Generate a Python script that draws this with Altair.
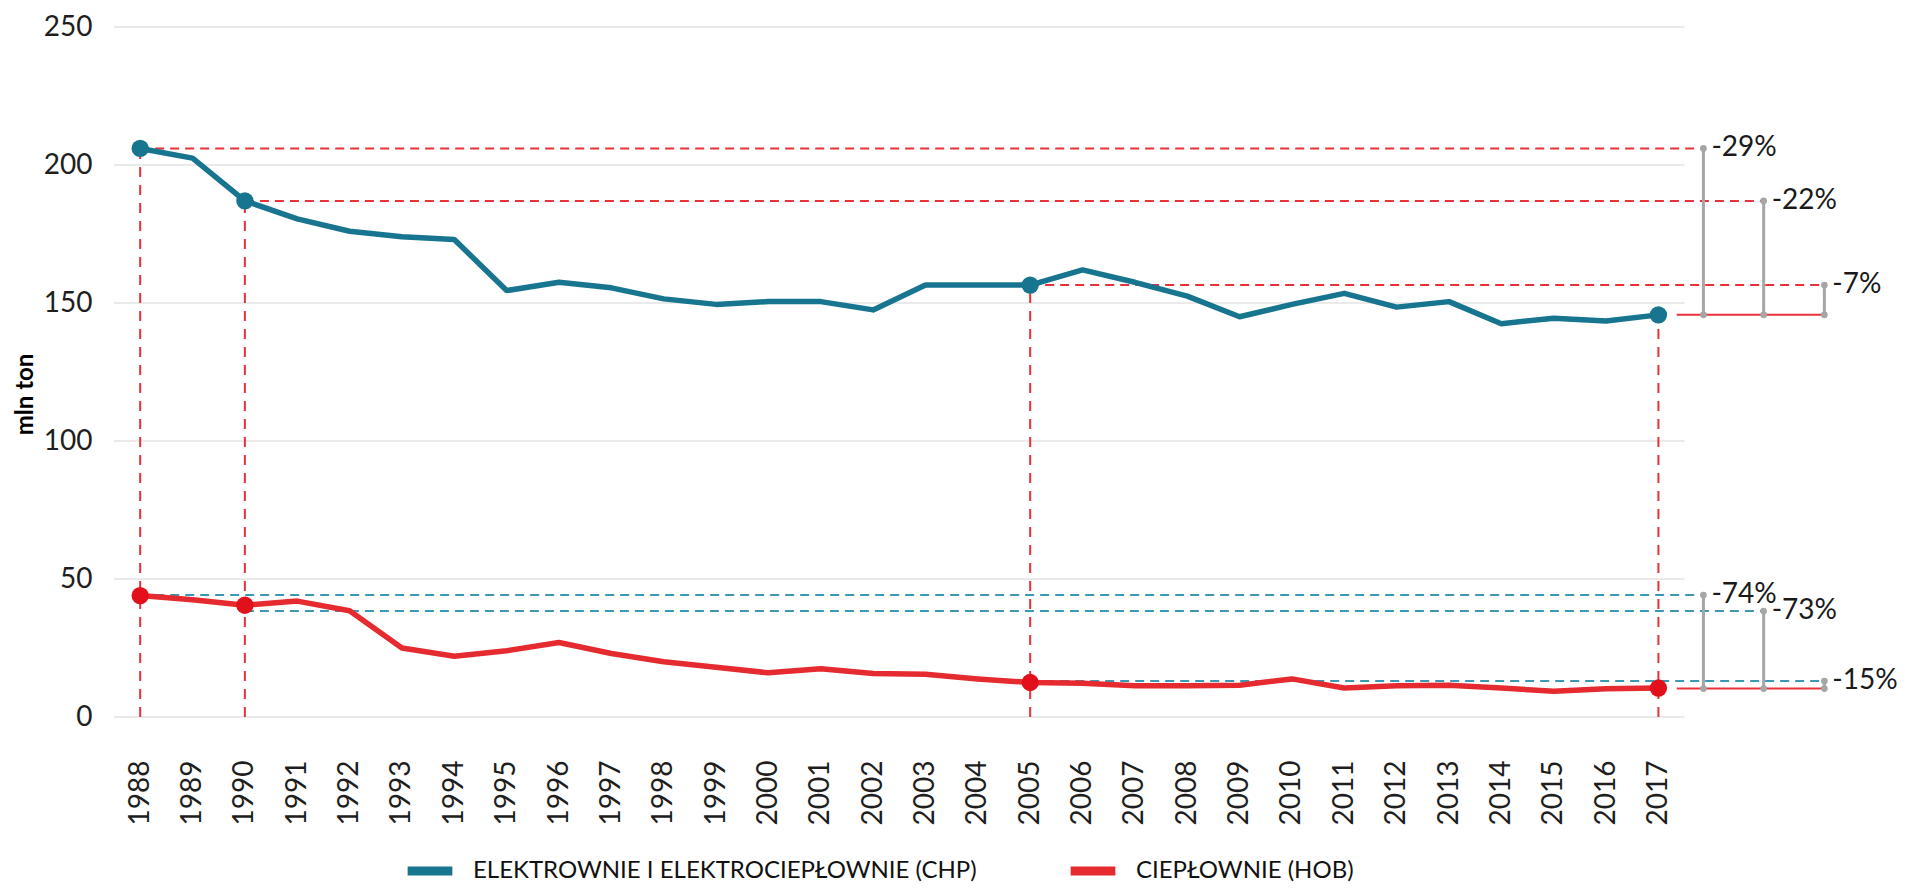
import altair as alt
import pandas as pd

# ---------------- data ----------------
years = [1988, 1989, 1990, 1991, 1992, 1993, 1994, 1995, 1996, 1997,
         1998, 1999, 2000, 2001, 2002, 2003, 2004, 2005, 2006, 2007,
         2008, 2009, 2010, 2011, 2012, 2013, 2014, 2015, 2016, 2017]
chp = [206, 202.5, 187, 180.5, 176, 174, 173, 154.5, 157.5, 155.5,
       151.5, 149.5, 150.5, 150.5, 147.5, 156.5, 156.5, 156.5, 162, 157.5,
       152.5, 145, 149.5, 153.5, 148.5, 150.5, 142.5, 144.5, 143.5, 145.7]
hob = [44, 42.5, 40.5, 42, 38.5, 25, 22, 24, 27, 23,
       20, 18, 16, 17.5, 15.8, 15.5, 13.8, 12.5, 12.2, 11.3,
       11.3, 11.5, 13.8, 10.5, 11.3, 11.5, 10.5, 9.3, 10.2, 10.5]

series_names = ["ELEKTROWNIE I ELEKTROCIEPŁOWNIE (CHP)", "CIEPŁOWNIE (HOB)"]
series_colors = ["#17758F", "#E52B2F"]
marker_colors = ["#17758F", "#E2101A"]
marker_years = [1988, 1990, 2005, 2017]
y_ticks = [0, 50, 100, 150, 200, 250]

# reference levels (dashed guides) and end levels (solid guides)
ref_start_years = [1988, 1990, 2005]
chp_ref_levels = [206, 187, 156.5]
hob_ref_levels = [44.2, 38.4, 13.0]
chp_end_level = 145.7
hob_end_level = 10.3
end_line_start = 2017.35
bar_positions = [2017.86, 2019.01, 2020.17]
chp_labels = ["-29%", "-22%", "-7%"]
hob_labels = ["-74%", "-73%", "-15%"]

RED_DASH = "#E8323A"
BLUE_DASH = "#3C97B2"
GRAY = "#A6A6A6"
FONT = "Lato"

# ---------------- tables ----------------
line_df = pd.DataFrame({
    "year": years * 2,
    "value": chp + hob,
    "series": [series_names[0]] * len(years) + [series_names[1]] * len(years),
})

m_rows = []
for y in marker_years:
    i = years.index(y)
    m_rows.append({"year": y, "value": chp[i], "mcolor": marker_colors[0]})
    m_rows.append({"year": y, "value": hob[i], "mcolor": marker_colors[1]})
marker_df = pd.DataFrame(m_rows)

vline_df = pd.DataFrame({
    "year": marker_years,
    "top": [chp[years.index(y)] for y in marker_years],
    "bottom": [0] * len(marker_years),
})

g_rows = []
for s, e, lv in zip(ref_start_years, bar_positions, chp_ref_levels):
    g_rows.append({"start": s, "end": e, "level": lv, "gcolor": RED_DASH})
for s, e, lv in zip(ref_start_years, bar_positions, hob_ref_levels):
    g_rows.append({"start": s, "end": e, "level": lv, "gcolor": BLUE_DASH})
guide_df = pd.DataFrame(g_rows)

end_df = pd.DataFrame({
    "start": [end_line_start, end_line_start],
    "end": [bar_positions[-1], bar_positions[-1]],
    "level": [chp_end_level, hob_end_level],
})

b_rows = []
for x, lv, lab in zip(bar_positions, chp_ref_levels, chp_labels):
    b_rows.append({"x": x, "lo": chp_end_level, "hi": lv, "label": lab})
for x, lv, lab in zip(bar_positions, hob_ref_levels, hob_labels):
    b_rows.append({"x": x, "lo": hob_end_level, "hi": lv, "label": lab})
bar_df = pd.DataFrame(b_rows)
dot_df = pd.concat([
    bar_df[["x", "lo"]].rename(columns={"lo": "v"}),
    bar_df[["x", "hi"]].rename(columns={"hi": "v"}),
])

grid_df = pd.DataFrame({"v": y_ticks, "x0": [1987.5] * len(y_ticks), "x1": [2017.5] * len(y_ticks)})

# ---------------- scales / axes ----------------
xscale = alt.Scale(domain=[1987.5, 2021.5], nice=False, zero=False)
yscale = alt.Scale(domain=[0, 250], nice=False, zero=True)

x_axis = alt.Axis(values=years, format="d", labelAngle=-90, labelPadding=43,
                  labelFont=FONT, labelFontSize=28, labelColor="#1e1e1e",
                  grid=False, ticks=False, domain=False, title=None,
                  labelOverlap=False, labelFlush=False)
y_axis = alt.Axis(values=y_ticks, labelPadding=22, labelFont=FONT, labelFontSize=28,
                  labelColor="#1e1e1e", grid=False, ticks=False, domain=False,
                  title="mln ton", titleFont=FONT, titleFontSize=24,
                  titleFontWeight="bold", titleColor="#000000", titlePadding=6,
                  titleY=367)


def X(field):
    return alt.X(field, type="quantitative", scale=xscale, axis=x_axis, title=None)


def Y(field):
    return alt.Y(field, type="quantitative", scale=yscale, axis=y_axis, title="mln ton")


grid = alt.Chart(grid_df).mark_rule(color="#E3E3E3", strokeWidth=1.5).encode(
    x=X("x0"), x2="x1", y=Y("v"))

guides = alt.Chart(guide_df).mark_rule(strokeWidth=2, strokeDash=[9, 6]).encode(
    x=X("start"), x2="end", y=Y("level"),
    color=alt.Color("gcolor:N", scale=None))

ends = alt.Chart(end_df).mark_rule(strokeWidth=2, color=RED_DASH).encode(
    x=X("start"), x2="end", y=Y("level"))

vlines = alt.Chart(vline_df).mark_rule(strokeWidth=2, strokeDash=[10, 8], color=RED_DASH).encode(
    x=X("year"), y=Y("bottom"), y2="top")

bars = alt.Chart(bar_df).mark_rule(strokeWidth=3, color=GRAY).encode(
    x=X("x"), y=Y("lo"), y2="hi")

dots = alt.Chart(dot_df).mark_circle(size=45, color=GRAY, opacity=1).encode(
    x=X("x"), y=Y("v"))

labels = alt.Chart(bar_df).mark_text(align="left", baseline="middle", dx=8,
                                     font=FONT, fontSize=28, color="#1a1a1a").encode(
    x=X("x"), y=Y("hi"), text="label:N")

lines = alt.Chart(line_df).mark_line(strokeWidth=5.5, strokeJoin="round").encode(
    x=X("year"),
    y=Y("value"),
    color=alt.Color("series:N",
                    scale=alt.Scale(domain=series_names, range=series_colors),
                    legend=alt.Legend(orient="none", legendX=289, legendY=817,
                                      direction="horizontal", title=None,
                                      symbolType="stroke", symbolStrokeWidth=9,
                                      symbolSize=2000,
                                      labelFont=FONT, labelFontSize=24,
                                      labelColor="#111111", labelLimit=1000,
                                      columnPadding=75, labelOffset=16)),
)

markers = alt.Chart(marker_df).mark_circle(size=300, opacity=1).encode(
    x=X("year"), y=Y("value"), color=alt.Color("mcolor:N", scale=None))

chart = alt.layer(grid, guides, ends, vlines, bars, dots, labels, lines, markers).properties(
    width=1780, height=690,
    autosize=alt.AutoSizeParams(type="none"),
    padding={"left": 106, "top": 19, "right": 3, "bottom": 167},
).configure(background="white").configure_view(stroke=None)

chart.save("out.html", embed_options={"renderer": "svg", "actions": False})
